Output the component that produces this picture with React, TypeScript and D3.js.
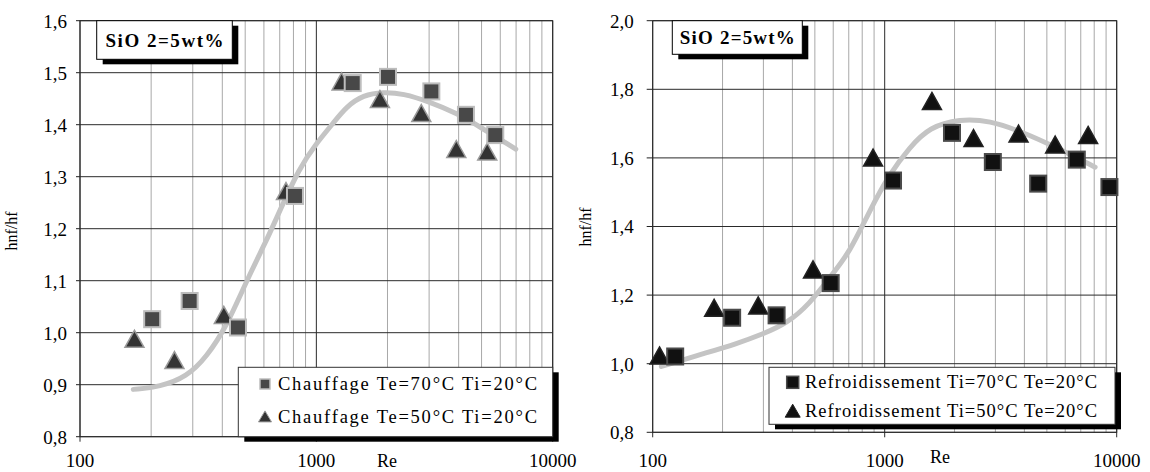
import * as d3 from "d3";

// left panel: chauffage
const leftSqRe = [202, 291, 466, 812, 1425, 2010, 3066, 4295, 5715];
const leftSqVal = [1.026, 1.061, 1.01, 1.263, 1.48, 1.492, 1.464, 1.419, 1.38];
const leftTriRe = [170, 251, 406, 744, 1279, 1858, 2780, 3910, 5285];
const leftTriVal = [0.985, 0.944, 1.031, 1.269, 1.48, 1.446, 1.419, 1.35, 1.345];
const leftFitRe = [168, 218, 283, 344, 417, 508, 616, 673, 851, 1000, 1178, 1341, 1580, 1915, 2325, 3017, 3925, 4920, 6980];
const leftFitVal = [0.891, 0.896, 0.915, 0.954, 1.012, 1.101, 1.178, 1.217, 1.319, 1.364, 1.403, 1.435, 1.457, 1.463, 1.46, 1.444, 1.422, 1.396, 1.353];
const leftYTicks = [0.8, 0.9, 1.0, 1.1, 1.2, 1.3, 1.4, 1.5, 1.6];
const leftLegend = ["Chauffage Te=70°C Ti=20°C", "Chauffage Te=50°C Ti=20°C"];

// right panel: refroidissement
const rightSqRe = [125, 220, 342, 585, 1086, 1950, 2925, 4587, 6730, 9303];
const rightSqVal = [1.021, 1.134, 1.141, 1.235, 1.534, 1.673, 1.588, 1.525, 1.595, 1.515];
const rightTriRe = [107, 184, 285, 491, 891, 1598, 2415, 3775, 5430, 7530];
const rightTriVal = [1.019, 1.158, 1.165, 1.27, 1.596, 1.761, 1.653, 1.666, 1.634, 1.662];
const rightFitRe = [109, 165, 230, 300, 378, 476, 580, 706, 862, 1051, 1281, 1562, 2103, 2835, 3938, 5485, 8070];
const rightFitVal = [0.992, 1.029, 1.058, 1.087, 1.117, 1.175, 1.252, 1.324, 1.447, 1.554, 1.631, 1.69, 1.714, 1.709, 1.675, 1.631, 1.573];
const rightYTicks = [0.8, 1.0, 1.2, 1.4, 1.6, 1.8, 2.0];
const rightLegend = ["Refroidissement Ti=70°C Te=20°C", "Refroidissement Ti=50°C Te=20°C"];

const xTicks = [100, 1000, 10000];
const minorX = [200, 300, 400, 500, 600, 700, 800, 900, 2000, 3000, 4000, 5000, 6000, 7000, 8000, 9000];
const boxLabel = "SiO 2=5wt%";

const font = "Liberation Serif, Times New Roman, serif";
const fmt = (v) => d3.format(".1f")(v).replace(".", ",");

function tri(cx, cy, w, h) {
  return `M${cx},${cy - h * 0.6}L${cx + w / 2},${cy + h * 0.4}L${cx - w / 2},${cy + h * 0.4}Z`;
}

function Panel(props) {
  const { p } = props;
  const x = d3.scaleLog().domain([100, 10000]).range([p.left, p.right]);
  const y = d3.scaleLinear().domain([p.yTicks[0], p.yTicks[p.yTicks.length - 1]]).range([p.bottom, p.top]);

  const fit = d3
    .line()
    .x((d) => x(d[0]))
    .y((d) => y(d[1]))
    .curve(d3.curveBasis)(p.fitRe.map((r, i) => [r, p.fitVal[i]]));

  const lg = p.legend;

  return (
    <g style={{ fontFamily: font }}>
      {minorX.map((v) => (
        <line key={v} x1={x(v)} x2={x(v)} y1={p.top} y2={p.bottom} stroke="#a8a8a8" strokeWidth={1} />
      ))}
      {p.yTicks.map((v) => (
        <g key={v}>
          <line x1={p.left} x2={p.right} y1={y(v)} y2={y(v)} stroke="#2a2a2a" strokeWidth={1} />
          <line x1={p.left - p.tick} x2={p.left} y1={y(v)} y2={y(v)} stroke="#222" />
          <text x={p.left - p.labelGap} y={y(v)} dy="0.36em" textAnchor="end" fontSize={19}>
            {fmt(v)}
          </text>
        </g>
      ))}
      {xTicks.map((v) => (
        <g key={v}>
          <line x1={x(v)} x2={x(v)} y1={p.top} y2={p.bottom + 5} stroke="#2a2a2a" strokeWidth={1} />
          <text x={x(v)} y={467} textAnchor="middle" fontSize={19}>
            {v}
          </text>
        </g>
      ))}
      <rect x={p.left} y={p.top} width={p.right - p.left} height={p.bottom - p.top} fill="none" stroke="#2a2a2a" />
      <text x={p.reX} y={p.reY} textAnchor="middle" fontSize={18}>
        Re
      </text>
      <text transform={`translate(${p.yTitleX},${p.yTitleY}) rotate(-90)`} textAnchor="middle" fontSize={16}>
        hnf/hf
      </text>

      {/* label box */}
      <rect x={p.box[0] + 6} y={p.box[1] + 5} width={p.box[2]} height={p.box[3]} fill="#000" />
      <rect x={p.box[0]} y={p.box[1]} width={p.box[2]} height={p.box[3]} fill="#fff" stroke="#000" strokeWidth={1} />
      <text
        x={p.box[0] + p.box[2] / 2}
        y={p.box[1] + p.box[3] / 2}
        dy="0.35em"
        textAnchor="middle"
        fontSize={19}
        fontWeight="bold"
        textLength={p.boxTextLen}
        lengthAdjust="spacing"
      >
        {boxLabel}
      </text>

      <path d={fit} fill="none" stroke="#c4c4c4" strokeWidth={5} strokeLinecap="round" />

      {p.triRe.map((r, i) => (
        <path key={"t" + i} d={tri(x(r), y(p.triVal[i]), 19, 17)} fill={p.triFill} stroke={p.triStroke} strokeWidth={1.5} />
      ))}
      {p.sqRe.map((r, i) => (
        <rect
          key={"s" + i}
          x={x(r) - 8}
          y={y(p.sqVal[i]) - 8}
          width={16}
          height={16}
          fill={p.sqFill}
          stroke={p.sqStroke}
          strokeWidth={2}
        />
      ))}

      {/* legend */}
      <rect x={lg.x + 6} y={lg.y + 5} width={lg.w} height={lg.h} fill="#000" />
      <rect x={lg.x} y={lg.y} width={lg.w} height={lg.h} fill="#fff" stroke="#333" />
      <rect
        x={lg.mx - lg.ms / 2}
        y={lg.y1 - lg.ms / 2}
        width={lg.ms}
        height={lg.ms}
        fill={p.sqFill}
        stroke={p.sqStroke}
        strokeWidth={1.5}
      />
      <path d={tri(lg.mx, lg.y2 + 1, lg.ms + 3, lg.ms + 1)} fill={p.triFill} stroke={p.triStroke} strokeWidth={1} />
      {p.legendText.map((t, i) => (
        <text
          key={t}
          x={lg.tx}
          y={i === 0 ? lg.y1 : lg.y2}
          dy="0.33em"
          fontSize={18.5}
          textLength={lg.tw}
          lengthAdjust="spacing"
        >
          {t}
        </text>
      ))}
    </g>
  );
}

const panels = [
  {
    left: 80,
    right: 552.7,
    top: 20.7,
    bottom: 436.7,
    yTicks: leftYTicks,
    tick: 4,
    labelGap: 13,
    sqRe: leftSqRe,
    sqVal: leftSqVal,
    triRe: leftTriRe,
    triVal: leftTriVal,
    fitRe: leftFitRe,
    fitVal: leftFitVal,
    sqFill: "#484848",
    sqStroke: "#bdbdbd",
    triFill: "#333",
    triStroke: "#9a9a9a",
    reX: 387,
    reY: 467,
    yTitleX: 17,
    yTitleY: 231,
    box: [96.7, 20.7, 135.6, 38.6],
    boxTextLen: 118,
    legendText: leftLegend,
    legend: { x: 238.3, y: 367.3, w: 314.4, h: 69.4, mx: 265, y1: 384, y2: 416.5, ms: 10, tx: 278, tw: 259 },
  },
  {
    left: 652.7,
    right: 1116.7,
    top: 20.7,
    bottom: 432.3,
    yTicks: rightYTicks,
    tick: 6,
    labelGap: 19,
    sqRe: rightSqRe,
    sqVal: rightSqVal,
    triRe: rightTriRe,
    triVal: rightTriVal,
    fitRe: rightFitRe,
    fitVal: rightFitVal,
    sqFill: "#111",
    sqStroke: "#4a4a4a",
    triFill: "#111",
    triStroke: "#222",
    reX: 940,
    reY: 463,
    yTitleX: 591,
    yTitleY: 227,
    box: [672.3, 20.7, 130, 33.6],
    boxTextLen: 115,
    legendText: rightLegend,
    legend: { x: 769, y: 367.3, w: 346, h: 57, mx: 792.7, y1: 382.3, y2: 411, ms: 12, tx: 805, tw: 292 },
  },
];

export default function App() {
  return (
    <div style={{ position: "absolute", left: 0, top: 0 }}>
      <svg width={1150} height={472} style={{ display: "block", background: "#fff" }}>
        {panels.map((p, i) => (
          <Panel key={i} p={p} />
        ))}
      </svg>
    </div>
  );
}
